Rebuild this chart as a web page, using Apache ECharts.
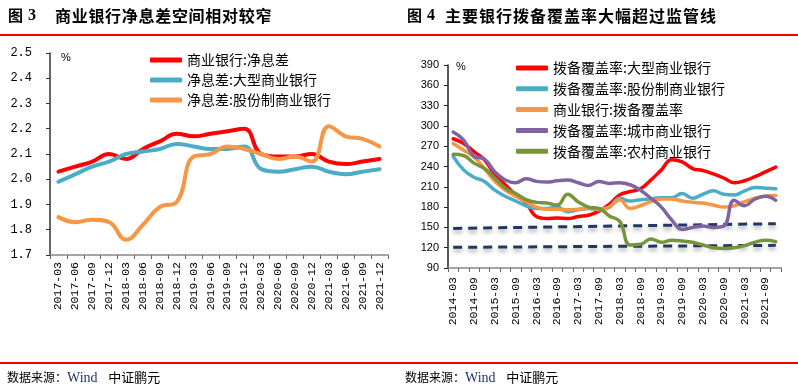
<!DOCTYPE html>
<html><head><meta charset="utf-8">
<script src="https://cdn.jsdelivr.net/npm/echarts@6/dist/echarts.min.js"></script>
<style>
html,body{margin:0;padding:0;background:#fff;}
#wrap{position:relative;width:798px;height:392px;overflow:hidden;background:#fff;}
#chart{position:absolute;left:0;top:0;width:798px;height:392px;}
.t{position:absolute;white-space:nowrap;color:#000;font-family:"Noto Sans CJK SC";line-height:1;}
.rule{position:absolute;left:0;width:798px;height:2px;background:#ff0000;}
.num{font-family:"Liberation Serif";font-weight:bold;}
.wind{font-family:"Liberation Serif";color:#1f3864;font-size:14px;}
</style></head>
<body><div id="wrap"><div id="chart"></div>
<div class="rule" style="top:34px"></div>
<div class="rule" style="top:362px"></div>
<div class="t" style="left:8px;top:7px;font-size:15px;font-weight:bold;">图</div>
<div class="t num" style="left:28px;top:7px;font-size:16px;">3</div>
<div class="t" style="left:55px;top:7px;font-size:16px;font-weight:bold;letter-spacing:0.7px;">商业银行净息差空间相对较窄</div>
<div class="t" style="left:407px;top:7px;font-size:15px;font-weight:bold;">图</div>
<div class="t num" style="left:427px;top:7px;font-size:16px;">4</div>
<div class="t" style="left:445px;top:7px;font-size:16px;font-weight:bold;letter-spacing:1px;">主要银行拨备覆盖率大幅超过监管线</div>
<div class="t" style="left:7px;top:370px;font-size:12px;">数据来源：<span class="wind">Wind</span>&nbsp;&nbsp;&nbsp;&nbsp;<span style="font-size:13px">中证鹏元</span></div>
<div class="t" style="left:405px;top:370px;font-size:12px;">数据来源：<span class="wind">Wind</span>&nbsp;&nbsp;&nbsp;&nbsp;<span style="font-size:13px">中证鹏元</span></div>
</div>
<script>
// ---------- Figure 3: net interest margin (%) ----------
const nimCategories = ['2017-03','2017-06','2017-09','2017-12','2018-03','2018-06','2018-09','2018-12','2019-03','2019-06','2019-09','2019-12','2020-03','2020-06','2020-09','2020-12','2021-03','2021-06','2021-09','2021-12'];
const nimCommercial = [2.03,2.05,2.07,2.10,2.08,2.12,2.15,2.18,2.17,2.18,2.19,2.20,2.10,2.09,2.09,2.10,2.07,2.06,2.07,2.08];
const nimLarge      = [1.99,2.02,2.05,2.07,2.10,2.11,2.12,2.14,2.13,2.12,2.12,2.13,2.04,2.03,2.04,2.05,2.03,2.02,2.03,2.04];
const nimJointStock = [1.85,1.83,1.84,1.83,1.76,1.82,1.89,1.91,2.09,2.10,2.13,2.12,2.10,2.08,2.09,2.07,2.21,2.17,2.16,2.13];
const nimNames = ['商业银行:净息差','净息差:大型商业银行','净息差:股份制商业银行'];
const nimAxis = {min:1.7, max:2.5, interval:0.1};

// ---------- Figure 4: provision coverage ratio (%) ----------
const pcrCategories = ['2014-03','2014-06','2014-09','2014-12','2015-03','2015-06','2015-09','2015-12','2016-03','2016-06','2016-09','2016-12','2017-03','2017-06','2017-09','2017-12','2018-03','2018-06','2018-09','2018-12','2019-03','2019-06','2019-09','2019-12','2020-03','2020-06','2020-09','2020-12','2021-03','2021-06','2021-09','2021-12'];
const pcrLarge = [281,274,262,250,228,213,198,186,166,163,164,163,166,168,174,184,198,203,207,220,235,250,247,237,234,229,223,216,219,225,232,239];
const pcrJoint = [255,235,224,218,205,196,189,182,178,178,180,173,176,178,176,180,193,189,191,192,194,194,200,193,199,204,199,198,204,209,208,207];
const pcrAll   = [274,264,254,237,218,205,196,188,180,177,177,176,177,178,177,180,191,178,182,188,192,192,189,187,186,183,180,182,188,193,196,197];
const pcrCity  = [291,279,255,251,232,220,216,222,218,217,219,220,216,212,218,215,216,213,205,193,180,161,147,150,152,150,152,190,182,192,196,190];
const pcrRural = [258,256,245,237,223,208,200,191,187,186,183,199,188,180,178,167,159,124,125,133,128,131,130,128,124,120,119,120,123,128,131,129];
const regUpper = [148.5,155.5]; // first and last quarter
const regLower = [120.5,123.5];
const pcrNames = ['拨备覆盖率:大型商业银行','拨备覆盖率:股份制商业银行','商业银行:拨备覆盖率','拨备覆盖率:城市商业银行','拨备覆盖率:农村商业银行'];
const pcrAxis = {min:90, max:390, interval:30};

function endpoints(pair, n) {
  const arr = new Array(n).fill(null);
  arr[0] = pair[0];
  arr[n - 1] = pair[1];
  return arr;
}

const CJK = '"Noto Sans CJK SC"';
function lineSeries(name, data, color, idx, width) {
  return {name, type:'line', xAxisIndex:idx, yAxisIndex:idx, data, smooth:0.45, symbol:'none',
    lineStyle:{color, width, cap:'round', join:'round'}, itemStyle:{color}, emphasis:{disabled:true}};
}
function regSeries(pair, idx) {
  return {type:'line', xAxisIndex:idx, yAxisIndex:idx, data:endpoints(pair, pcrCategories.length),
    connectNulls:true, symbol:'none', silent:true, z:1,
    lineStyle:{color:'#1f3864', width:3, type:[9,6],
      shadowColor:'rgba(0,0,0,0.35)', shadowBlur:4, shadowOffsetY:3}};
}

const chart = echarts.init(document.getElementById('chart'), null, {renderer:'canvas'});
chart.setOption({
  animation:false,
  backgroundColor:'transparent',
  grid:[
    {left:50, top:53, width:338, height:202},
    {left:448, top:65, width:333, height:203}
  ],
  legend:[
    {data:nimNames, orient:'vertical', left:145, top:48, itemWidth:32, itemHeight:5, itemGap:6,
     icon:'roundRect', textStyle:{fontFamily:CJK, fontSize:14, color:'#000'}, selectedMode:false},
    {data:pcrNames, orient:'vertical', left:511, top:56, itemWidth:32, itemHeight:5, itemGap:6.8,
     icon:'roundRect', textStyle:{fontFamily:CJK, fontSize:14, color:'#000'}, selectedMode:false}
  ],
  xAxis:[
    {type:'category', gridIndex:0, data:nimCategories, boundaryGap:true,
     axisLine:{lineStyle:{color:'#888', width:1.5}},
     axisTick:{show:true, length:4, lineStyle:{color:'#666'}},
     axisLabel:{rotate:90, interval:0, margin:7, color:'#000', fontFamily:'Liberation Mono', fontSize:11.5},
     splitLine:{show:false}},
    {type:'category', gridIndex:1, data:pcrCategories, boundaryGap:true,
     axisLine:{lineStyle:{color:'#888', width:1.5}},
     axisTick:{show:true, interval:0, length:4, lineStyle:{color:'#666'}},
     axisLabel:{rotate:90, interval:1, margin:9, color:'#000', fontFamily:'Liberation Mono', fontSize:11.5},
     splitLine:{show:false}}
  ],
  yAxis:[
    {type:'value', gridIndex:0, min:nimAxis.min, max:nimAxis.max, interval:nimAxis.interval,
     axisLine:{show:true, lineStyle:{color:'#333', width:1.5}},
     axisTick:{show:true, length:4, lineStyle:{color:'#333'}},
     axisLabel:{color:'#000', fontFamily:'Liberation Mono', fontSize:12, margin:18,
       formatter:v => v.toFixed(1)},
     splitLine:{show:false}},
    {type:'value', gridIndex:1, min:pcrAxis.min, max:pcrAxis.max, interval:pcrAxis.interval,
     axisLine:{show:true, lineStyle:{color:'#222', width:1.5}},
     axisTick:{show:true, length:4, lineStyle:{color:'#222'}},
     axisLabel:{color:'#000', fontFamily:'Liberation Sans', fontSize:11, margin:9},
     splitLine:{show:false}}
  ],
  graphic:[
    {type:'text', left:61, top:52, style:{text:'%', fontFamily:'Liberation Sans', fontSize:11, fill:'#000'}},
    {type:'text', left:456, top:61, style:{text:'%', fontFamily:'Liberation Sans', fontSize:11, fill:'#000'}}
  ],
  series:[
    lineSeries(nimNames[0], nimCommercial, '#ff0000', 0, 4),
    lineSeries(nimNames[1], nimLarge, '#4bacc6', 0, 4),
    lineSeries(nimNames[2], nimJointStock, '#f79646', 0, 4),
    regSeries(regUpper, 1),
    regSeries(regLower, 1),
    lineSeries(pcrNames[0], pcrLarge, '#ff0000', 1, 3.5),
    lineSeries(pcrNames[1], pcrJoint, '#4bacc6', 1, 3.5),
    lineSeries(pcrNames[2], pcrAll, '#f79646', 1, 3.5),
    lineSeries(pcrNames[3], pcrCity, '#8064a2', 1, 3.5),
    lineSeries(pcrNames[4], pcrRural, '#77933c', 1, 3.5)
  ]
});
</script>
</body></html>
